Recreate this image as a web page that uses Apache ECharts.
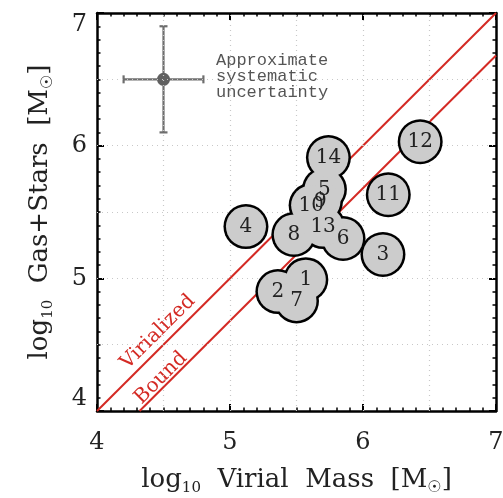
<!DOCTYPE html>
<html><head><meta charset="utf-8">
<script src="https://cdn.jsdelivr.net/npm/echarts@6/dist/echarts.min.js"></script>
<style>html,body{margin:0;padding:0;background:#fff}#c{width:503px;height:498px}</style>
</head><body><div id="c"></div>
<script>
// Systems: identifier, log10 virial mass, log10 gas+stars mass
const ids = ['1', '2', '3', '4', '5', '6', '7', '8', '9', '10', '11', '12', '13', '14'];
const virialMass = [5.57, 5.36, 6.15, 5.12, 5.71, 5.85, 5.50, 5.48, 5.68, 5.61, 6.19, 6.43, 5.70, 5.74];
const gasStars  = [4.99, 4.90, 5.18, 5.39, 5.67, 5.30, 4.83, 5.33, 5.58, 5.55, 5.63, 6.03, 5.39, 5.91];

// Reference relations
const virializedLine = [[4, 4], [7, 7]];
const boundLine = [[4.32, 4], [7, 6.68]];

// Systematic uncertainty marker: centre and half-widths
const errCenter = [4.5, 6.5];
const errHalfX = 0.3;
const errHalfY = 0.4;

// Dotted grid positions
const gridX = [4.5, 5, 5.5, 6, 6.5];
const gridY = [4.5, 5, 5.5, 6, 6.5];

const axisTicks = [4, 5, 6, 7];

const SERIF = 'DejaVu Serif';
const RED = '#d42a24';

const points = virialMass.map((x, i) => [x, gasStars[i], ids[i]]);

function frameAxis(pos, withLabels, extra) {
  const horizontal = pos === 'bottom' || pos === 'top';
  return Object.assign({
    type: 'value', min: axisTicks[0], max: axisTicks[axisTicks.length - 1], interval: 1,
    position: pos,
    axisLine: { show: true, onZero: false, lineStyle: { color: '#000', width: 2.5 } },
    axisTick: { show: true, inside: true, length: 7, lineStyle: { color: '#000', width: 2 } },
    minorTick: { show: true, splitNumber: 10, length: 3.5, lineStyle: { color: '#000', width: 1.5 } },
    splitLine: { show: false },
    axisLabel: withLabels ? {
      fontSize: 24, fontFamily: SERIF, color: '#222',
      margin: horizontal ? 20 : 10
    } : { show: false }
  }, extra || {});
}

const nameRich = {
  t: { fontSize: 26, fontFamily: SERIF, color: '#222', lineHeight: 32, verticalAlign: 'middle' },
  s: { fontSize: 15, fontFamily: SERIF, color: '#222', lineHeight: 15, verticalAlign: 'bottom' },
  o: { fontSize: 16, fontFamily: 'DejaVu Sans', color: '#222', lineHeight: 16, verticalAlign: 'bottom' }
};

const chart = echarts.init(document.getElementById('c'));
chart.setOption({
  animation: false,
  backgroundColor: '#fff',
  grid: { left: 97, right: 7, top: 13, bottom: 87, containLabel: false, outerBoundsMode: 'none' },
  xAxis: [
    frameAxis('bottom', true, {
      name: '{t|log}{s|10}{t|  Virial  Mass  [M}{o|☉}{t|]}',
      nameLocation: 'middle', nameGap: 53,
      nameTextStyle: { rich: nameRich }
    }),
    frameAxis('top', false)
  ],
  yAxis: [
    frameAxis('left', true, {
      name: '{t|log}{s|10}{t|  Gas+Stars  [M}{o|☉}{t|]}',
      nameLocation: 'middle', nameGap: 41,
      nameTextStyle: { rich: nameRich },
      axisLabel: {
        fontSize: 24, fontFamily: SERIF, color: '#222', margin: 10,
        verticalAlignMaxLabel: 'top', verticalAlignMinLabel: 'bottom'
      }
    }),
    frameAxis('right', false)
  ],
  graphic: [
    {
      type: 'text', left: 216, top: 52, silent: true,
      style: {
        text: 'Approximate\nsystematic\nuncertainty',
        font: '17px "Liberation Mono"', fill: '#555', lineHeight: 16
      }
    },
    {
      type: 'text', x: 158, y: 332, rotation: Math.PI / 4, silent: true,
      style: { text: 'Virialized', font: '20px "DejaVu Serif"', fill: RED, align: 'center', verticalAlign: 'middle' }
    },
    {
      type: 'text', x: 161, y: 378, rotation: Math.PI / 4, silent: true,
      style: { text: 'Bound', font: '20px "DejaVu Serif"', fill: RED, align: 'center', verticalAlign: 'middle' }
    }
  ],
  series: [
    {
      // dotted grid
      type: 'line', data: [], silent: true,
      markLine: {
        silent: true, symbol: 'none', label: { show: false },
        lineStyle: { color: '#c8c8c8', type: [1, 4], width: 1.2 },
        data: gridX.map(v => ({ xAxis: v })).concat(gridY.map(v => ({ yAxis: v })))
      }
    },
    {
      type: 'line', data: virializedLine, symbol: 'none', silent: true,
      lineStyle: { color: RED, width: 2 }, z: 3
    },
    {
      type: 'line', data: boundLine, symbol: 'none', silent: true,
      lineStyle: { color: RED, width: 2 }, z: 3
    },
    {
      // uncertainty cross with end caps
      type: 'custom', silent: true, z: 3,
      data: [errCenter],
      renderItem: function (params, api) {
        const x = api.value(0), y = api.value(1);
        const l = api.coord([x - errHalfX, y]);
        const r = api.coord([x + errHalfX, y]);
        const t = api.coord([x, y + errHalfY]);
        const b = api.coord([x, y - errHalfY]);
        const cap = 4;
        const st = { stroke: '#6e6e6e', lineWidth: 2.2 };
        return {
          type: 'group',
          children: [
            { type: 'line', shape: { x1: l[0], y1: l[1], x2: r[0], y2: r[1] }, style: st },
            { type: 'line', shape: { x1: t[0], y1: t[1], x2: b[0], y2: b[1] }, style: st },
            { type: 'line', shape: { x1: l[0], y1: l[1] - cap, x2: l[0], y2: l[1] + cap }, style: st },
            { type: 'line', shape: { x1: r[0], y1: r[1] - cap, x2: r[0], y2: r[1] + cap }, style: st },
            { type: 'line', shape: { x1: t[0] - cap, y1: t[1], x2: t[0] + cap, y2: t[1] }, style: st },
            { type: 'line', shape: { x1: b[0] - cap, y1: b[1], x2: b[0] + cap, y2: b[1] }, style: st }
          ]
        };
      }
    },
    {
      type: 'scatter', data: [errCenter], symbolSize: 13, silent: true, z: 4,
      itemStyle: { color: '#606060', opacity: 1 }
    },
    {
      // outer outline of each system (merged where they overlap)
      type: 'scatter', data: points, symbolSize: 45, silent: true, z: 5,
      itemStyle: { color: '#000', opacity: 1 }
    },
    {
      type: 'scatter', data: points, symbolSize: 40, silent: true, z: 6,
      itemStyle: { color: '#cccccc', opacity: 1 },
      label: {
        show: true, position: 'inside',
        formatter: p => p.value[2],
        fontSize: 20, fontFamily: SERIF, color: '#222'
      }
    }
  ]
});
</script>
</body></html>
